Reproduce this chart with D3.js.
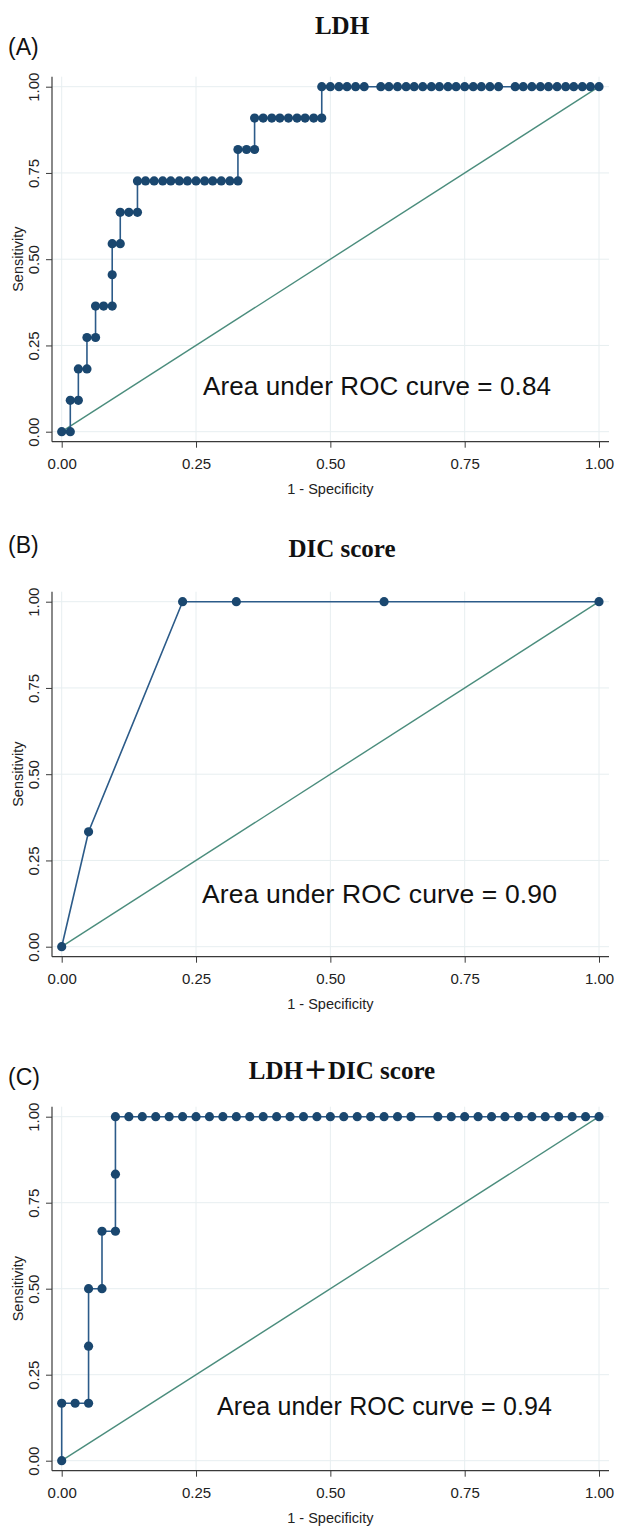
<!DOCTYPE html>
<html>
<head>
<meta charset="utf-8">
<script src="https://cdn.jsdelivr.net/npm/d3@7"></script>
<style>
  html, body { margin: 0; padding: 0; background: #fff; }
  svg { display: block; }
</style>
</head>
<body>
<svg id="chart" width="617" height="1526"></svg>
<script>
// ---------- data ----------
const tickValues = [0, 0.25, 0.5, 0.75, 1];
const tickLabels = ["0.00", "0.25", "0.50", "0.75", "1.00"];

const panelLetters = ["(A)", "(B)", "(C)"];
const panelTitles = ["LDH", "DIC score", "LDH\uFF0BDIC score"];
const aucLabels = ["Area under ROC curve = 0.84", "Area under ROC curve = 0.90", "Area under ROC curve = 0.94"];

// (A) LDH : 1 - specificity, sensitivity
const ldhFpr = [0, .016, .016, .031, .031, .047, .047, .063, .063, .078, .094, .094, .094, .109, .109, .125, .141, .141,
  .156, .172, .188, .203, .219, .234, .250, .266, .281, .297, .313, .328,
  .328, .344, .359, .359,
  .375, .391, .406, .422, .438, .453, .469, .484,
  .484, .500, .516, .531, .547, .563,
  .594, .609, .625, .641, .656, .672, .688, .703, .719, .734, .750, .766, .781, .797, .813,
  .844, .859, .875, .891, .906, .922, .938, .953, .969, .984, 1.000];
const ldhTpr = [0, 0, .091, .091, .182, .182, .273, .273, .364, .364, .364, .455, .545, .545, .636, .636, .636, .727,
  .727, .727, .727, .727, .727, .727, .727, .727, .727, .727, .727, .727,
  .818, .818, .818, .909,
  .909, .909, .909, .909, .909, .909, .909, .909,
  1, 1, 1, 1, 1, 1,
  1, 1, 1, 1, 1, 1, 1, 1, 1, 1, 1, 1, 1, 1, 1,
  1, 1, 1, 1, 1, 1, 1, 1, 1, 1, 1];

// (B) DIC score
const dicFpr = [0, .05, .225, .325, .60, 1.00];
const dicTpr = [0, .333, 1, 1, 1, 1];

// (C) LDH + DIC score
const combFpr = [0, 0, .025, .05, .05, .05, .075, .075, .10, .10, .10,
  .125, .150, .175, .200, .225, .250, .275, .300, .325, .350, .375, .400, .425, .450, .475, .500, .525, .550, .575, .600, .625, .650,
  .700, .725, .750, .775, .800, .825, .850, .875, .900, .925, .950, .975, 1.000];
const combTpr = [0, .167, .167, .167, .333, .5, .5, .667, .667, .833, 1,
  1, 1, 1, 1, 1, 1, 1, 1, 1, 1, 1, 1, 1, 1, 1, 1, 1, 1, 1, 1, 1, 1,
  1, 1, 1, 1, 1, 1, 1, 1, 1, 1, 1, 1, 1];

const seriesFpr = [ldhFpr, dicFpr, combFpr];
const seriesTpr = [ldhTpr, dicTpr, combTpr];

// ---------- layout ----------
const xLeft = 61.7, xRight = 599;          // data 0 and 1
const regionLeft = 52, regionRight = 609;
const panelY1 = [86.7, 601.7, 1116.7];     // pixel of sensitivity = 1
const panelY0 = [431.7, 946.7, 1460.7];    // pixel of sensitivity = 0
const titleY = [25, 548, 1070];
const letterY = [47, 545, 1077];
const aucX = [203, 202, 217];
const aucBaseOffset = [36.7, 43.4, 45.7];
const aucSize = [26, 26.5, 25];
const aucWidth = [348, 355, 335];

const svg = d3.select("#chart");
svg.append("rect").attr("width", 617).attr("height", 1526).attr("fill", "#fff");

const x = d3.scaleLinear().domain([0, 1]).range([xLeft, xRight]);

const navy = "#1a476f";
const lineCol = "#2c5b89";
const diagCol = "#4b8d7d";
const gridCol = "#e7eef0";
const axisCol = "#3a3a3a";
const sans = "'Liberation Sans', Arial, sans-serif";

for (let p = 0; p < 3; p++) {
  const y = d3.scaleLinear().domain([0, 1]).range([panelY0[p], panelY1[p]]);
  const top = panelY1[p] - 10, bottom = panelY0[p] + 10;
  const g = svg.append("g");

  // gridlines
  g.selectAll(".gx").data(tickValues).join("line")
    .attr("x1", d => x(d)).attr("x2", d => x(d))
    .attr("y1", top).attr("y2", bottom)
    .attr("stroke", gridCol).attr("stroke-width", 1);
  g.selectAll(".gy").data(tickValues).join("line")
    .attr("y1", d => y(d)).attr("y2", d => y(d))
    .attr("x1", regionLeft).attr("x2", regionRight)
    .attr("stroke", gridCol).attr("stroke-width", 1);

  // x axis
  const xa = g.append("g").attr("transform", `translate(0,${bottom})`)
    .call(d3.axisBottom(x).tickValues(tickValues).tickFormat((d, i) => tickLabels[i]).tickSize(6).tickSizeOuter(0));
  xa.select(".domain").remove();
  xa.selectAll("line").attr("stroke", axisCol);
  xa.selectAll("text").attr("font-family", sans).attr("font-size", 15).attr("fill", "#222")
    .attr("y", 0).attr("dy", null).attr("dominant-baseline", "central")
    .attr("transform", "translate(0,21.5)");
  g.append("line").attr("x1", regionLeft).attr("x2", regionRight)
    .attr("y1", bottom).attr("y2", bottom).attr("stroke", axisCol).attr("stroke-width", 1.2);

  // y axis
  const ya = g.append("g").attr("transform", `translate(${regionLeft},0)`)
    .call(d3.axisLeft(y).tickValues(tickValues).tickFormat((d, i) => tickLabels[i]).tickSize(6).tickSizeOuter(0));
  ya.select(".domain").remove();
  ya.selectAll("line").attr("stroke", axisCol);
  ya.selectAll("text").attr("font-family", sans).attr("font-size", 15).attr("fill", "#222")
    .attr("x", 0).attr("dy", null).attr("text-anchor", "middle").attr("dominant-baseline", "central")
    .attr("transform", "translate(-18.5,0) rotate(-90)");
  g.append("line").attr("x1", regionLeft).attr("x2", regionLeft)
    .attr("y1", top).attr("y2", bottom).attr("stroke", axisCol).attr("stroke-width", 1.2);

  // axis titles
  g.append("text").attr("x", (xLeft + xRight) / 2).attr("y", bottom + 47)
    .attr("text-anchor", "middle").attr("dominant-baseline", "central")
    .attr("font-family", sans).attr("font-size", 14.5).attr("fill", "#222")
    .text("1 - Specificity");
  g.append("text")
    .attr("transform", `translate(17.5,${(panelY0[p] + panelY1[p]) / 2}) rotate(-90)`)
    .attr("text-anchor", "middle").attr("dominant-baseline", "central")
    .attr("font-family", sans).attr("font-size", 14.5).attr("fill", "#222")
    .text("Sensitivity");

  // diagonal reference line
  g.append("line").attr("x1", x(0)).attr("y1", y(0)).attr("x2", x(1)).attr("y2", y(1))
    .attr("stroke", diagCol).attr("stroke-width", 1.4);

  // ROC curve
  const pts = seriesFpr[p].map((v, i) => [v, seriesTpr[p][i]]);
  g.append("path").datum(pts)
    .attr("d", d3.line().x(d => x(d[0])).y(d => y(d[1])))
    .attr("fill", "none").attr("stroke", lineCol).attr("stroke-width", 1.6);
  g.selectAll(".dot").data(pts).join("circle")
    .attr("cx", d => x(d[0])).attr("cy", d => y(d[1])).attr("r", 4.6)
    .attr("fill", navy);

  // AUC annotation
  g.append("text").attr("x", aucX[p]).attr("y", panelY0[p] - aucBaseOffset[p])
    .attr("font-family", sans).attr("font-size", aucSize[p]).attr("fill", "#111")
    .attr("textLength", aucWidth[p]).attr("lengthAdjust", "spacing")
    .text(aucLabels[p]);

  // panel letter and title
  svg.append("text").attr("x", 8).attr("y", letterY[p]).attr("dominant-baseline", "central")
    .attr("font-family", sans).attr("font-size", 23).attr("fill", "#111")
    .text(panelLetters[p]);
  svg.append("text").attr("x", 342).attr("y", titleY[p]).attr("dominant-baseline", "central")
    .attr("text-anchor", "middle")
    .attr("font-family", "'Liberation Serif', 'Times New Roman', 'Noto Sans CJK JP', serif")
    .attr("font-weight", "bold").attr("font-size", 25).attr("fill", "#111")
    .text(panelTitles[p]);
}
</script>
</body>
</html>
